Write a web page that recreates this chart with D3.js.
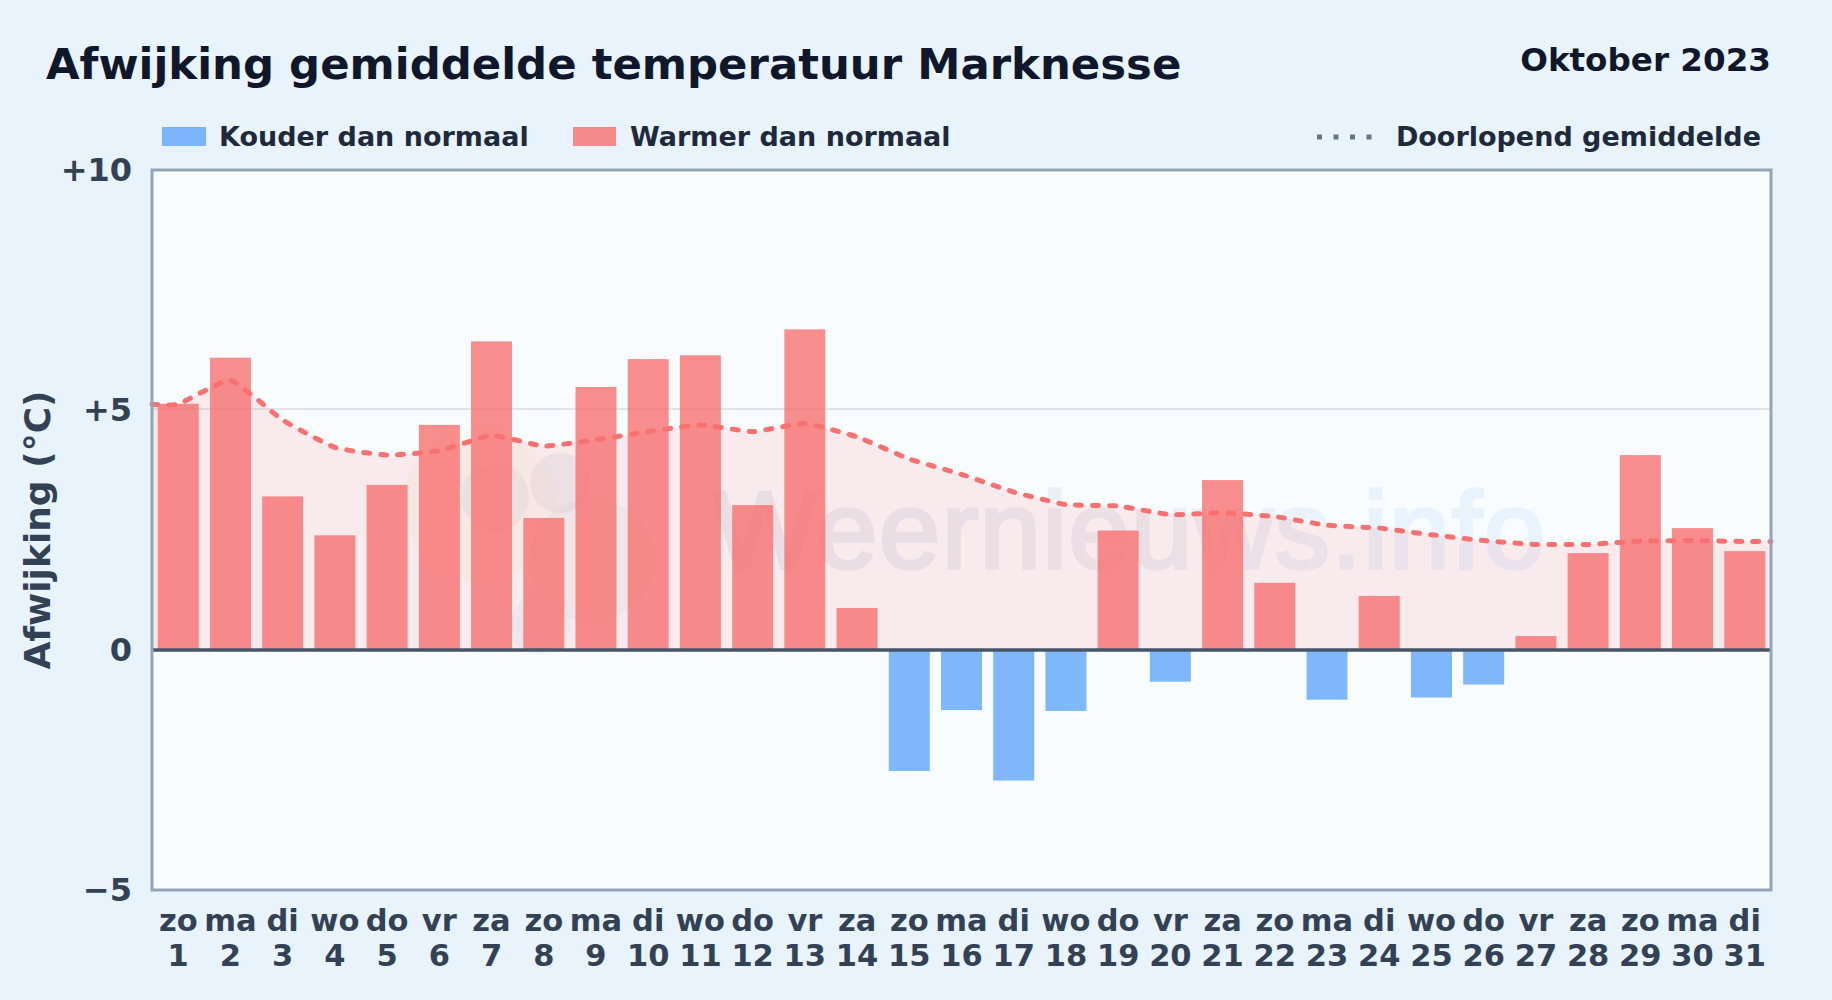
<!DOCTYPE html>
<html>
<head>
<meta charset="utf-8">
<script src="https://d3js.org/d3.v7.min.js"></script>
<style>
  html, body { margin: 0; padding: 0; background: #e8f3fc; }
  svg { display: block; }
  text { font-family: "DejaVu Sans", sans-serif; font-weight: bold; }
</style>
</head>
<body>
<svg id="chart"></svg>
<script>
'use strict';
const dayNames = ['zo','ma','di','wo','do','vr','za','zo','ma','di','wo','do','vr','za','zo','ma','di','wo','do','vr','za','zo','ma','di','wo','do','vr','za','zo','ma','di'];
const dayNumbers = d3.range(1, 32);
const deviation = [5.13,6.09,3.2,2.39,3.44,4.69,6.43,2.75,5.48,6.06,6.14,3.02,6.68,0.875,-2.52,-1.25,-2.72,-1.27,2.49,-0.66,3.54,1.40,-1.035,1.125,-0.99,-0.72,0.29,2.02,4.06,2.54,2.06];
const runningMean = [5.12,5.62,4.79,4.22,4.06,4.15,4.47,4.25,4.38,4.55,4.69,4.55,4.72,4.44,3.98,3.66,3.29,3.03,3.0,2.82,2.86,2.78,2.6,2.54,2.4,2.28,2.2,2.2,2.27,2.28,2.26];
const yTicks = [-5, 0, 5, 10];
const yLabels = ['\u22125', '0', '+5', '+10'];

const width = 1832, height = 1000;
const plot = { left: 152, right: 1771, top: 170, bottom: 890 };
const svg = d3.select('#chart').attr('width', width).attr('height', height);

const x = d3.scaleBand().domain(dayNumbers).range([plot.left, plot.right]).paddingInner(0.215).paddingOuter(0.11);
const y = d3.scaleLinear().domain([-5, 10]).range([plot.bottom, plot.top]);
const cx = d => x(d) + x.bandwidth() / 2;

// page and plot backgrounds
svg.append('rect').attr('width', width).attr('height', height).attr('fill', '#e8f3fc');
svg.append('rect').attr('x', plot.left).attr('y', plot.top)
  .attr('width', plot.right - plot.left).attr('height', plot.bottom - plot.top).attr('fill', '#f8fcff');

// gridlines
svg.append('g').selectAll('line').data(yTicks.filter(d => d === 5)).join('line')
  .attr('x1', plot.left).attr('x2', plot.right).attr('y1', d => y(d) - 1).attr('y2', d => y(d) - 1)
  .attr('stroke', '#e1e5ea').attr('stroke-width', 2);

// watermark: logo blobs plus site name
const wmGrad = svg.append('defs').append('linearGradient').attr('id', 'wm');
wmGrad.append('stop').attr('offset', '0%').attr('stop-color', '#5b5f8a');
wmGrad.append('stop').attr('offset', '62%').attr('stop-color', '#6a7fb0');
wmGrad.append('stop').attr('offset', '82%').attr('stop-color', '#60a5fa');
wmGrad.append('stop').attr('offset', '100%').attr('stop-color', '#60a5fa');
const wm = svg.append('g').attr('opacity', 0.09);
wm.append('text').attr('x', 713).attr('y', 568)
  .style('font-family', '"Liberation Sans", sans-serif').style('font-weight', 'normal')
  .attr('font-size', 110).attr('textLength', 832)
  .attr('fill', 'url(#wm)').attr('stroke', 'url(#wm)').attr('stroke-width', 3.5)
  .text('Weernieuws.info');
const blobs = svg.append('g');
blobs.selectAll('circle').data([[480, 505, 78, '#fde047', 0.05], [495, 497, 34, '#64748b', 0.08], [560, 483, 30, '#64748b', 0.08], [592, 560, 62, '#64748b', 0.05], [540, 625, 30, '#60a5fa', 0.07]])
  .join('circle').attr('cx', d => d[0]).attr('cy', d => d[1]).attr('r', d => d[2]).attr('fill', d => d[3]).attr('fill-opacity', d => d[4]);

// running mean area and line: held flat from plot edge to the first and last day
const lineX = [plot.left, ...dayNumbers.map(cx), plot.right];
const lineY = [runningMean[0], ...runningMean, runningMean[runningMean.length - 1]];
const pts = lineX.map((px, i) => [px, lineY[i]]);
const curve = d3.curveCardinal.tension(0.6);
svg.append('path').datum(pts)
  .attr('d', d3.area().x(d => d[0]).y0(y(0)).y1(d => y(d[1])).curve(curve))
  .attr('fill', '#f87171').attr('fill-opacity', 0.13);

// bars
svg.append('g').selectAll('rect').data(deviation).join('rect')
  .attr('x', (d, i) => x(dayNumbers[i]))
  .attr('width', x.bandwidth())
  .attr('y', d => y(Math.max(d, 0)))
  .attr('height', d => Math.abs(y(d) - y(0)))
  .attr('fill', d => d >= 0 ? '#f87171' : '#60a5fa')
  .attr('fill-opacity', 0.8);

svg.append('path').datum(pts)
  .attr('d', d3.line().x(d => d[0]).y(d => y(d[1])).curve(curve))
  .attr('fill', 'none').attr('stroke', '#f87171').attr('stroke-width', 5)
  .attr('stroke-dasharray', '6 11').attr('stroke-linecap', 'round');

// zero line and frame
svg.append('line').attr('x1', plot.left).attr('x2', plot.right).attr('y1', y(0)).attr('y2', y(0))
  .attr('stroke', '#475569').attr('stroke-width', 3.5);
svg.append('rect').attr('x', plot.left).attr('y', plot.top)
  .attr('width', plot.right - plot.left).attr('height', plot.bottom - plot.top)
  .attr('fill', 'none').attr('stroke', '#94a3b8').attr('stroke-width', 3);

// y axis labels
svg.append('g').selectAll('text').data(yTicks).join('text')
  .attr('x', 132).attr('y', d => y(d) + 11).attr('text-anchor', 'end')
  .attr('font-size', 32).attr('fill', '#334155').text((d, i) => yLabels[i]);
svg.append('text').attr('transform', `translate(50,${y(2.5) + 0}) rotate(-90)`).attr('text-anchor', 'middle')
  .attr('font-size', 36).attr('fill', '#334155').text('Afwijking (°C)');

// x axis labels
const xLab = svg.append('g').selectAll('g').data(dayNumbers).join('g');
xLab.append('text').attr('x', cx).attr('y', 931).attr('text-anchor', 'middle')
  .attr('font-size', 30.5).attr('fill', '#334155').text((d, i) => dayNames[i]);
xLab.append('text').attr('x', cx).attr('y', 966).attr('text-anchor', 'middle')
  .attr('font-size', 30.5).attr('fill', '#334155').text(d => d);

// title
svg.append('text').attr('x', 46).attr('y', 79).attr('font-size', 43.4).attr('fill', '#0f172a')
  .text('Afwijking gemiddelde temperatuur Marknesse');
svg.append('text').attr('x', 1771).attr('y', 71).attr('text-anchor', 'end').attr('font-size', 32.6).attr('fill', '#0f172a')
  .text('Oktober 2023');

// legend
const legend = svg.append('g');
legend.append('rect').attr('x', 162).attr('y', 127).attr('width', 44).attr('height', 19).attr('fill', '#60a5fa').attr('fill-opacity', 0.8);
legend.append('text').attr('x', 219).attr('y', 146).attr('font-size', 27).attr('fill', '#1e293b').text('Kouder dan normaal');
legend.append('rect').attr('x', 573).attr('y', 127).attr('width', 43).attr('height', 19).attr('fill', '#f87171').attr('fill-opacity', 0.8);
legend.append('text').attr('x', 630).attr('y', 146).attr('font-size', 27).attr('fill', '#1e293b').text('Warmer dan normaal');
legend.append('line').attr('x1', 1317).attr('x2', 1374).attr('y1', 137).attr('y2', 137)
  .attr('stroke', '#64748b').attr('stroke-width', 5).attr('stroke-dasharray', '5 11.5');
legend.append('text').attr('x', 1761).attr('y', 146).attr('text-anchor', 'end').attr('font-size', 27).attr('fill', '#1e293b').text('Doorlopend gemiddelde');
</script>
</body>
</html>
